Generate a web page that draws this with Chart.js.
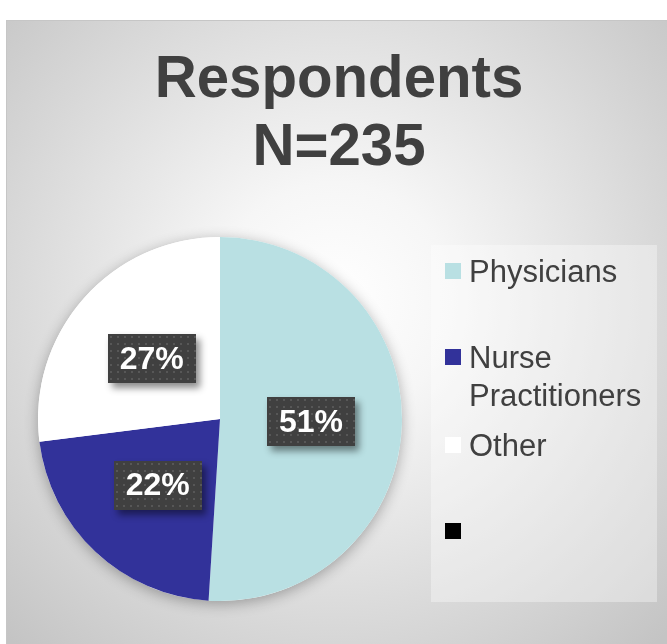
<!DOCTYPE html>
<html><head><meta charset="utf-8">
<style>html,body{margin:0;padding:0;background:#fff;overflow:hidden}</style>
<script src="https://cdn.jsdelivr.net/npm/chart.js@4.4.0/dist/chart.umd.min.js"></script>
</head><body>
<canvas id="c" width="667" height="644"></canvas>
<script>
const titleLines = ['Respondents', 'N=235'];
const categories = ['Physicians', 'Nurse Practitioners', 'Other'];
const shares = [51, 22, 27];
const sliceColors = ['#b9e0e3', '#32329a', '#ffffff'];
const legendLabels = [['Physicians'], ['Nurse', 'Practitioners'], ['Other'], ['']];
const legendColors = ['#b9e0e3', '#32329a', '#ffffff', '#000000'];

const FONT = '"Liberation Sans", Arial, Helvetica, sans-serif';

function dotPattern(ctx) {
  const p = document.createElement('canvas');
  p.width = 7; p.height = 7;
  const c = p.getContext('2d');
  c.fillStyle = '#404040'; c.fillRect(0, 0, 7, 7);
  c.fillStyle = '#575757'; c.fillRect(2, 2, 2, 2);
  return ctx.createPattern(p, 'repeat');
}

const backgroundPlugin = {
  id: 'bg',
  beforeDraw(chart) {
    const ctx = chart.ctx;
    ctx.save();
    ctx.fillStyle = '#ffffff';
    ctx.fillRect(0, 0, chart.width, chart.height);
    const g = ctx.createRadialGradient(335, 300, 0, 335, 300, 470);
    g.addColorStop(0, '#ffffff');
    g.addColorStop(0.25, '#f6f6f6');
    g.addColorStop(1, '#c4c4c4');
    ctx.fillStyle = g;
    ctx.fillRect(7, 20, chart.width - 7, chart.height - 20);
    ctx.strokeStyle = '#c6c6c6';
    ctx.lineWidth = 1;
    ctx.strokeRect(6.5, 20.5, chart.width - 6, chart.height - 20);
    // title (slightly condensed like the original)
    ctx.fillStyle = '#404040';
    ctx.font = 'bold 60px ' + FONT;
    ctx.textAlign = 'center';
    ctx.textBaseline = 'alphabetic';
    titleLines.forEach((t, i) => {
      ctx.save();
      ctx.translate(339, 97 + i * 68);
      ctx.scale(0.97, 1);
      ctx.fillText(t, 0, 0);
      ctx.restore();
    });
    // legend box
    ctx.fillStyle = 'rgba(255,255,255,0.35)';
    ctx.fillRect(431, 245, 226, 357);
    ctx.restore();
  },
  beforeDatasetsDraw(chart) {
    const meta = chart.getDatasetMeta(0);
    const a = meta.data[0];
    if (!a) return;
    const ctx = chart.ctx;
    ctx.save();
    ctx.shadowColor = 'rgba(0,0,0,0.3)';
    ctx.shadowBlur = 14;
    ctx.shadowOffsetY = 3;
    ctx.fillStyle = '#ffffff';
    ctx.beginPath();
    ctx.arc(a.x, a.y, a.outerRadius, 0, Math.PI * 2);
    ctx.fill();
    ctx.restore();
  },
  afterDatasetsDraw(chart) {
    const ctx = chart.ctx;
    const meta = chart.getDatasetMeta(0);
    const pat = dotPattern(ctx);
    meta.data.forEach((arc, i) => {
      const p = arc.tooltipPosition();
      const w = 88, h = 49;
      const x = Math.round(p.x - w / 2), y = Math.round(p.y - h / 2);
      ctx.save();
      ctx.shadowColor = 'rgba(0,0,0,0.45)';
      ctx.shadowBlur = 7;
      ctx.shadowOffsetX = 4;
      ctx.shadowOffsetY = 5;
      ctx.fillStyle = '#404040';
      ctx.fillRect(x, y, w, h);
      ctx.restore();
      ctx.save();
      ctx.fillStyle = pat;
      ctx.translate(x, y);
      ctx.fillRect(0, 0, w, h);
      ctx.restore();
      ctx.save();
      ctx.fillStyle = '#ffffff';
      ctx.font = 'bold 32px ' + FONT;
      ctx.textAlign = 'center';
      ctx.textBaseline = 'middle';
      ctx.fillText(shares[i] + '%', p.x, p.y + 1);
      ctx.restore();
    });
  },
  afterDraw(chart) {
    const ctx = chart.ctx;
    ctx.save();
    ctx.font = '31px ' + FONT;
    ctx.textAlign = 'left';
    ctx.textBaseline = 'alphabetic';
    const centers = [271, 357, 445, 531];
    legendLabels.forEach((lines, i) => {
      const cy = centers[i];
      ctx.fillStyle = legendColors[i];
      ctx.fillRect(445, cy - 8, 16, 16);
      ctx.fillStyle = '#404040';
      lines.forEach((t, j) => ctx.fillText(t, 469, cy + 11 + j * 38));
    });
    ctx.restore();
  }
};

new Chart(document.getElementById('c'), {
  type: 'pie',
  data: {
    labels: categories,
    datasets: [{ data: shares, backgroundColor: sliceColors, borderWidth: 0 }]
  },
  options: {
    responsive: false,
    animation: false,
    layout: { padding: { left: 37, top: 237, right: 264, bottom: 43 } },
    plugins: {
      legend: { display: false },
      tooltip: { enabled: false },
      title: { display: false }
    }
  },
  plugins: [backgroundPlugin]
});
</script>
</body></html>
